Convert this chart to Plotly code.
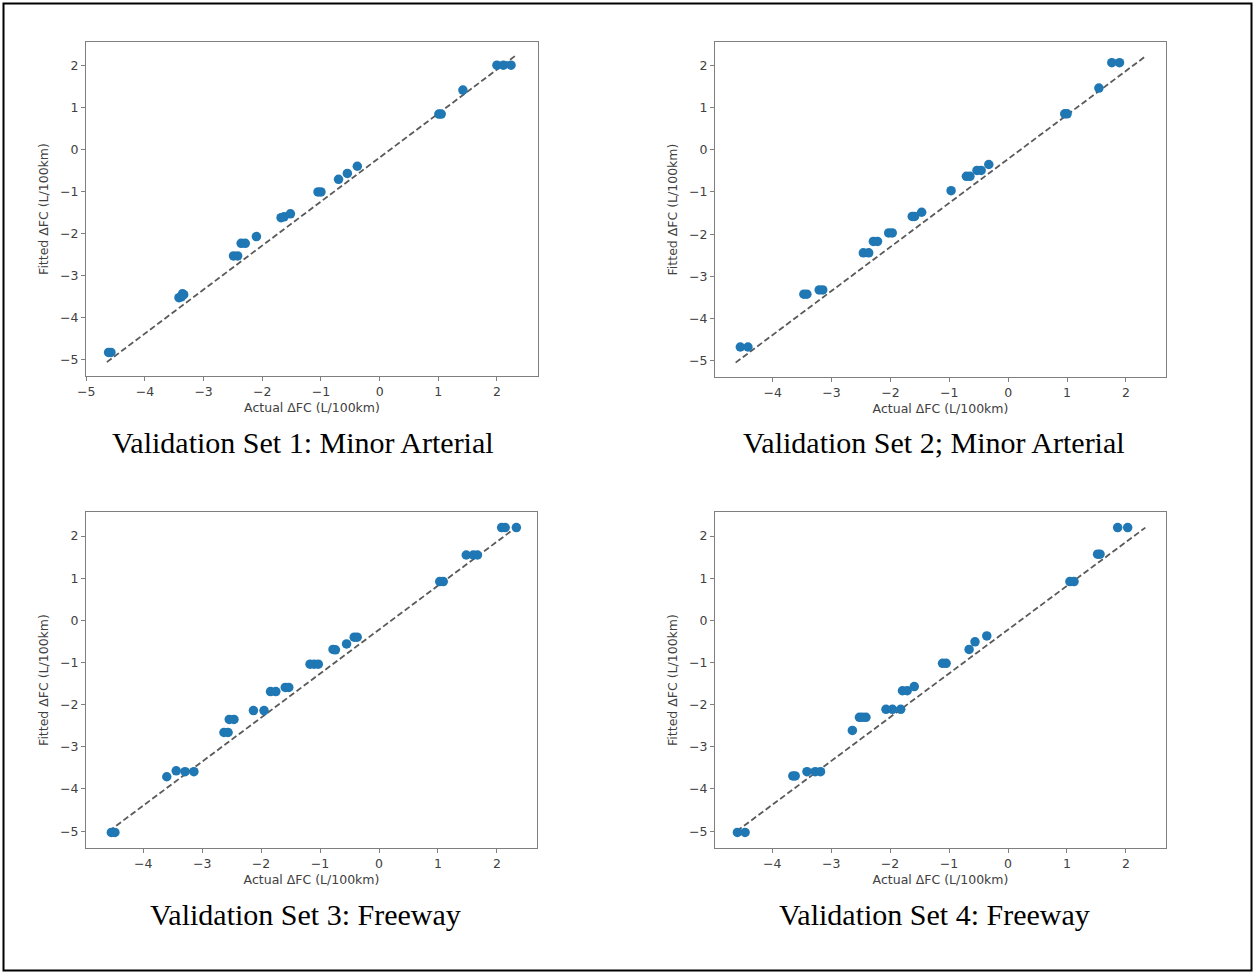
import plotly.graph_objects as go

# ---------------- data ----------------
titles = ["Validation Set 1: Minor Arterial", "Validation Set 2; Minor Arterial",
          "Validation Set 3: Freeway", "Validation Set 4: Freeway"]
x_label = "Actual ΔFC (L/100km)"
y_label = "Fitted ΔFC (L/100km)"
tick_values = [-5, -4, -3, -2, -1, 0, 1, 2]

x1 = [-4.62, -4.58, -3.42, -3.38, -3.36, -3.34, -2.49, -2.42, -2.36, -2.29, -2.10, -1.68, -1.63,
      -1.52, -1.05, -1.00, -0.70, -0.55, -0.38, 1.01, 1.05, 1.42, 2.00, 2.11, 2.24]
y1 = [-4.82, -4.82, -3.52, -3.50, -3.43, -3.45, -2.53, -2.53, -2.23, -2.23, -2.07, -1.62, -1.60,
      -1.53, -1.01, -1.01, -0.71, -0.57, -0.40, 0.84, 0.84, 1.41, 2.00, 2.00, 2.00]

x2 = [-4.55, -4.42, -3.47, -3.42, -3.21, -3.15, -2.46, -2.37, -2.29, -2.22, -2.03, -1.97, -1.63,
      -1.59, -1.47, -0.97, -0.71, -0.65, -0.53, -0.46, -0.33, 0.96, 1.00, 1.54, 1.76, 1.89]
y2 = [-4.67, -4.67, -3.42, -3.42, -3.32, -3.32, -2.44, -2.44, -2.17, -2.17, -1.97, -1.97, -1.58,
      -1.58, -1.48, -0.97, -0.63, -0.63, -0.49, -0.49, -0.35, 0.85, 0.85, 1.46, 2.06, 2.06]

x3 = [-4.54, -4.48, -3.60, -3.44, -3.29, -3.14, -2.63, -2.56, -2.54, -2.46, -2.13, -1.95, -1.84,
      -1.75, -1.59, -1.53, -1.17, -1.10, -1.03, -0.78, -0.74, -0.55, -0.42, -0.37, 1.03, 1.09,
      1.48, 1.60, 1.67, 2.08, 2.14, 2.33]
y3 = [-5.03, -5.03, -3.71, -3.57, -3.59, -3.59, -2.66, -2.66, -2.35, -2.35, -2.14, -2.14, -1.69,
      -1.69, -1.59, -1.59, -1.04, -1.04, -1.04, -0.69, -0.70, -0.56, -0.40, -0.40, 0.92, 0.92,
      1.55, 1.55, 1.55, 2.20, 2.20, 2.20]

x4 = [-4.59, -4.46, -3.65, -3.61, -3.41, -3.27, -3.18, -2.64, -2.52, -2.41, -2.47, -2.07, -1.96,
      -1.82, -1.79, -1.71, -1.59, -1.11, -1.05, -0.66, -0.56, -0.36, 1.05, 1.12, 1.52, 1.56,
      1.86, 2.03]
y4 = [-5.03, -5.03, -3.69, -3.69, -3.59, -3.59, -3.59, -2.61, -2.30, -2.30, -2.30, -2.11, -2.11,
      -2.11, -1.67, -1.67, -1.57, -1.02, -1.02, -0.69, -0.51, -0.37, 0.92, 0.92, 1.57, 1.57,
      2.20, 2.20]

# reference (fit) lines: start / end
line1_x = [-4.65, 2.33]
line1_y = [-5.05, 2.24]
line2_x = [-4.63, 2.33]
line2_y = [-5.04, 2.21]
line3_x = [-4.58, 2.32]
line3_y = [-5.00, 2.20]
line4_x = [-4.60, 2.33]
line4_y = [-5.00, 2.20]

xs = [x1, x2, x3, x4]
ys = [y1, y2, y3, y4]
lxs = [line1_x, line2_x, line3_x, line4_x]
lys = [line1_y, line2_y, line3_y, line4_y]

# ---------------- layout geometry (pixels) ----------------
W, H = 1254, 972
boxes = [(86, 538, 42, 376), (715, 1166, 42, 377), (86, 537, 512, 848), (715, 1166, 512, 848)]
xranges = [[-5.005, 2.70], [-4.98, 2.68], [-4.97, 2.68], [-4.97, 2.68]]
yranges = [[-5.38, 2.55], [-5.38, 2.55], [-5.40, 2.57], [-5.40, 2.57]]
title_centers = [(303, 443), (934, 443), (305, 914), (934, 914)]

fig = go.Figure()
axis_col = "#7f7f7f"
text_col = "#404040"
fs = 12.5

for i in range(4):
    ax = "" if i == 0 else str(i + 1)
    fig.add_trace(go.Scatter(x=lxs[i], y=lys[i], mode="lines",
                             line=dict(color="#5a5a5a", width=1.8, dash="6px,3px"),
                             xaxis="x" + ax, yaxis="y" + ax, showlegend=False, hoverinfo="skip"))
    fig.add_trace(go.Scatter(x=xs[i], y=ys[i], mode="markers",
                             marker=dict(color="#1f77b4", size=9.5, line=dict(width=0)),
                             xaxis="x" + ax, yaxis="y" + ax, showlegend=False))
    x0, x1p, y0, y1p = boxes[i]
    common = dict(showgrid=False, zeroline=False, showline=True, mirror=True,
                  linecolor=axis_col, linewidth=1.3, ticks="outside", ticklen=4,
                  tickcolor=axis_col, tickwidth=1, automargin=False,
                  tickfont=dict(family="DejaVu Sans", size=fs, color=text_col),
                  tickvals=tick_values)
    fig.layout["xaxis" + ax] = dict(
        common, domain=[x0 / W, x1p / W], range=xranges[i], anchor="y" + ax,
        title=dict(text=x_label, font=dict(family="DejaVu Sans", size=fs, color=text_col), standoff=5))
    fig.layout["yaxis" + ax] = dict(
        common, domain=[1 - y1p / H, 1 - y0 / H], range=yranges[i], anchor="x" + ax,
        title=dict(text=y_label, font=dict(family="DejaVu Sans", size=fs, color=text_col), standoff=8))
    cx, cy = title_centers[i]
    fig.add_annotation(text=titles[i], x=cx / W, y=1 - cy / H, xref="paper", yref="paper",
                       showarrow=False, xanchor="center", yanchor="middle",
                       font=dict(family="Liberation Serif", size=30, color="black"))

fig.add_shape(type="rect", xref="paper", yref="paper",
              x0=3.5 / W, x1=1251.5 / W, y0=1 - 970.5 / H, y1=1 - 3.5 / H,
              line=dict(color="black", width=2))

fig.update_layout(width=W, height=H, margin=dict(l=0, r=0, t=0, b=0),
                  paper_bgcolor="white", plot_bgcolor="white")

fig.write_html("out.html")
